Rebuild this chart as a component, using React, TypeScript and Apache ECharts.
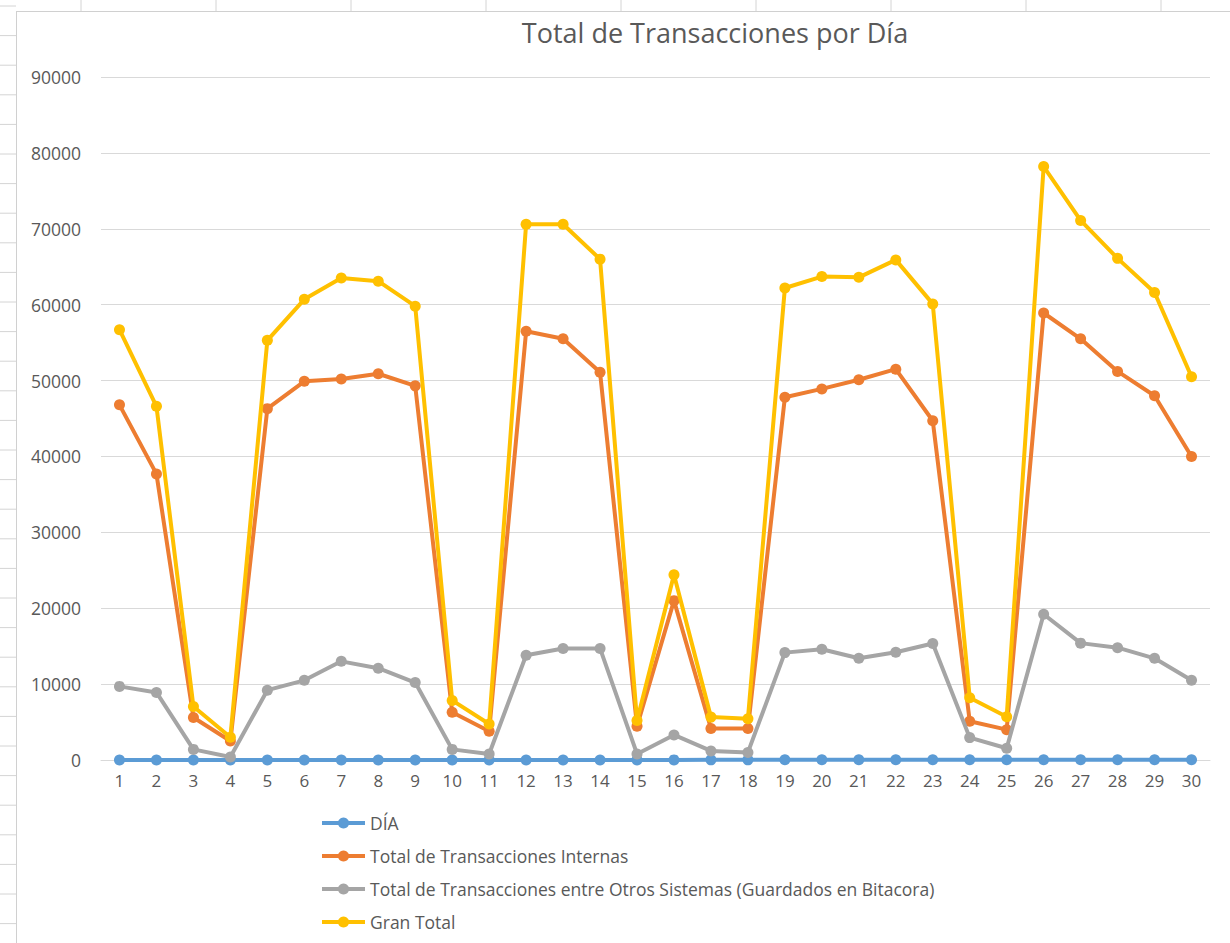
import React, { useEffect, useRef } from "react";
import * as echarts from "echarts";

const days = ["1","2","3","4","5","6","7","8","9","10","11","12","13","14","15","16","17","18","19","20","21","22","23","24","25","26","27","28","29","30"];
const dia = [1,2,3,4,5,6,7,8,9,10,11,12,13,14,15,16,17,18,19,20,21,22,23,24,25,26,27,28,29,30];
const internas = [46800, 37700, 5600, 2500, 46300, 49900, 50200, 50900, 49300, 6300, 3800, 56500, 55500, 51100, 4450, 21000, 4150, 4150, 47800, 48900, 50100, 51500, 44700, 5100, 4000, 58900, 55500, 51200, 48000, 40000];
const otros = [9700, 8900, 1400, 400, 9200, 10500, 13000, 12100, 10200, 1400, 800, 13800, 14700, 14700, 800, 3300, 1200, 1000, 14150, 14600, 13400, 14200, 15350, 2950, 1550, 19200, 15400, 14800, 13400, 10500];
const granTotal = [56700, 46600, 7050, 3000, 55300, 60700, 63500, 63100, 59800, 7850, 4750, 70600, 70600, 66000, 5200, 24400, 5650, 5450, 62200, 63700, 63600, 65900, 60100, 8200, 5700, 78200, 71100, 66100, 61600, 50500];
const seriesNames = [
  "DÍA",
  "Total de Transacciones Internas",
  "Total de Transacciones entre Otros Sistemas (Guardados en Bitacora)",
  "Gran Total",
];
const seriesColors = ["#5B9BD5", "#ED7D31", "#A5A5A5", "#FFC000"];
const yMin = 0;
const yMax = 90000;
const yInterval = 10000;

const FONT = "'Open Sans', 'Noto Sans', sans-serif";
const TEXT = "#595959";
const GRID = "#D9D9D9";

export default function App() {
  const ref = useRef<HTMLDivElement>(null);
  useEffect(() => {
    if (!ref.current) return;
    const chart = echarts.init(ref.current, undefined, { renderer: "svg" });

    const deco: any[] = [];
    for (let k = 0; k < 9; k++) {
      const x = 81 + 135 * k;
      deco.push({ type: "line", shape: { x1: x, y1: 0, x2: x, y2: 11 }, style: { stroke: "#D4D4D4", lineWidth: 1 }, silent: true });
    }
    for (let k = 0; k < 32; k++) {
      const y = 6 + 29.6 * k;
      deco.push({ type: "line", shape: { x1: 0, y1: y, x2: 16, y2: y }, style: { stroke: "#D4D4D4", lineWidth: 1 }, silent: true });
    }
    deco.push({ type: "line", shape: { x1: 16.5, y1: 11, x2: 16.5, y2: 943 }, style: { stroke: "#D0D0D0", lineWidth: 1 }, silent: true });
    deco.push({ type: "line", shape: { x1: 16.5, y1: 11.5, x2: 1230, y2: 11.5 }, style: { stroke: "#D0D0D0", lineWidth: 1 }, silent: true });

    const data = [dia, internas, otros, granTotal];
    chart.setOption({
      animation: false,
      backgroundColor: "#ffffff",
      title: {
        text: "Total de Transacciones por Día",
        left: 710,
        top: 14,
        textAlign: "center",
        textStyle: { fontFamily: FONT, fontSize: 27, fontWeight: "normal", color: TEXT },
      },
      graphic: deco,
      grid: { left: 101, top: 77, width: 1109, height: 683, containLabel: false },
      legend: {
        orient: "vertical",
        left: 320,
        top: 814,
        padding: 0,
        itemWidth: 43,
        itemHeight: 14,
        itemGap: 15,
        data: seriesNames,
        lineStyle: { width: 4 },
        textStyle: { fontFamily: FONT, fontSize: 17.5, color: TEXT },
      },
      xAxis: {
        type: "category",
        data: days,
        boundaryGap: true,
        axisLine: { show: true, lineStyle: { color: GRID, width: 1 } },
        axisTick: { show: false },
        axisLabel: { color: TEXT, fontFamily: FONT, fontSize: 17, margin: 12, interval: 0 },
        splitLine: { show: false },
      },
      yAxis: {
        type: "value",
        min: yMin,
        max: yMax,
        interval: yInterval,
        axisLine: { show: false },
        axisTick: { show: false },
        axisLabel: { color: TEXT, fontFamily: FONT, fontSize: 17.5, margin: 20, formatter: (v: number) => String(v) },
        splitLine: { show: true, lineStyle: { color: GRID, width: 1 } },
      },
      series: seriesNames.map((name, i) => ({
        name,
        type: "line",
        data: data[i],
        symbol: "circle",
        symbolSize: 11,
        showAllSymbol: true,
        itemStyle: { color: seriesColors[i] },
        lineStyle: { color: seriesColors[i], width: 4 },
        z: 2 + i,
      })),
    });
    return () => chart.dispose();
  }, []);
  return (
    <div
      ref={ref}
      style={{ position: "absolute", left: 0, top: 0, width: 1230, height: 943 }}
    />
  );
}
